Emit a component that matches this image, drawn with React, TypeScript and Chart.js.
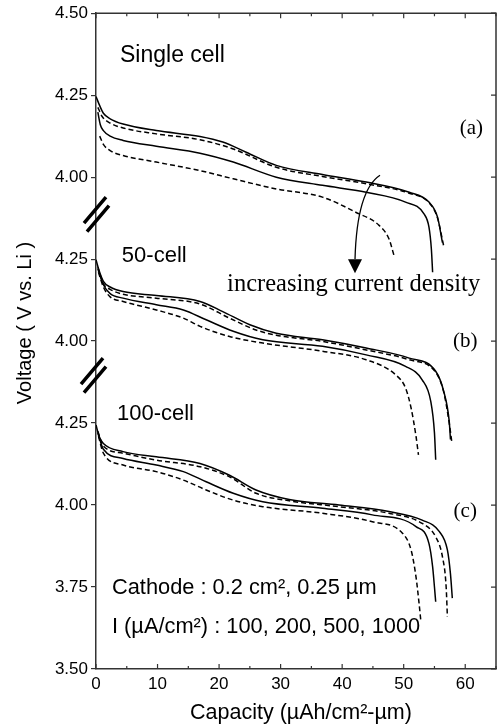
import { useEffect, useRef } from "react";
import Chart from "chart.js/auto";

// ---------- data (capacity µAh/cm²-µm, voltage V vs Li) ----------
// Panel (a): single cell
const A_CAP_100 = [0, 0.6, 1.2, 2.3, 4.4, 9.8, 16.9, 20.6, 24.4, 29.3, 36.8, 43.9, 50.9, 54.1, 55.5, 56.3];
const A_V_100 = [4.246, 4.218, 4.195, 4.178, 4.162, 4.142, 4.124, 4.107, 4.076, 4.036, 4.008, 3.985, 3.954, 3.924, 3.878, 3.8];
const A_CAP_200 = [0.3, 1.0, 2.3, 4.4, 9.8, 16.9, 22.3, 29.3, 36.8, 43.9, 50.9, 54.1, 55.5, 56.5];
const A_V_200 = [4.213, 4.185, 4.165, 4.15, 4.132, 4.114, 4.086, 4.03, 4.002, 3.98, 3.951, 3.922, 3.875, 3.79];
const A_CAP_500 = [0.3, 0.7, 1.2, 2.3, 4.4, 9.8, 16.9, 22.3, 29.3, 36.8, 43.9, 50.3, 53.3, 54.1, 54.5, 54.7];
const A_V_500 = [4.198, 4.16, 4.142, 4.125, 4.112, 4.094, 4.073, 4.046, 4.0, 3.975, 3.954, 3.924, 3.888, 3.848, 3.78, 3.71];
const A_CAP_1000 = [0.6, 1.2, 2.3, 4.4, 9.8, 16.9, 22.3, 29.3, 36.8, 42.2, 46.0, 47.6, 48.5];
const A_V_1000 = [4.125, 4.1, 4.081, 4.066, 4.046, 4.02, 3.995, 3.964, 3.939, 3.893, 3.853, 3.812, 3.756];

// Panel (b): 50-cell
const B_CAP_100 = [0, 0.5, 1.2, 2.3, 4.4, 9.8, 16.9, 20.6, 25, 29.3, 36.8, 43.9, 50.9, 55.2, 56.5, 57.4, 57.6];
const B_V_100 = [4.248, 4.215, 4.182, 4.165, 4.151, 4.139, 4.121, 4.09, 4.05, 4.024, 4.004, 3.979, 3.948, 3.908, 3.847, 3.755, 3.7];
const B_CAP_200 = [0.3, 1.2, 2.3, 4.4, 9.8, 16.9, 21.7, 26, 29.3, 36.8, 43.9, 50.9, 55.2, 56.5, 57.4, 57.8];
const B_V_200 = [4.225, 4.175, 4.158, 4.143, 4.131, 4.113, 4.07, 4.034, 4.018, 3.999, 3.973, 3.943, 3.905, 3.845, 3.75, 3.695];
const B_CAP_500 = [0.3, 1.2, 2.3, 4.4, 9.8, 14.2, 17.9, 22.3, 27.1, 36.8, 43.9, 50.3, 53.0, 54.4, 55.0, 55.2];
const B_V_500 = [4.22, 4.172, 4.145, 4.131, 4.111, 4.095, 4.065, 4.03, 4.004, 3.984, 3.958, 3.923, 3.882, 3.816, 3.72, 3.638];
const B_CAP_1000 = [0.4, 1.2, 2.3, 4.4, 9.8, 14.2, 16.9, 21.7, 27.1, 36.8, 43.9, 48.7, 50.3, 51.2, 52.0, 52.4];
const B_V_1000 = [4.21, 4.165, 4.135, 4.121, 4.095, 4.07, 4.045, 4.014, 3.994, 3.969, 3.943, 3.897, 3.857, 3.796, 3.71, 3.653];

// Panel (c): 100-cell
const C_CAP_100 = [0, 0.5, 1.2, 4.4, 9.8, 16.9, 21.7, 26, 31.4, 39.5, 47.6, 53, 55.8, 57.1, 57.6, 57.9];
const C_V_100 = [4.244, 4.21, 4.188, 4.163, 4.147, 4.127, 4.091, 4.046, 4.017, 4.0, 3.98, 3.954, 3.919, 3.863, 3.79, 3.716];
const C_CAP_200 = [0.3, 1.2, 4.4, 9.8, 16.9, 21.7, 26, 31.4, 39.5, 47.6, 53, 55.2, 56.3, 56.9, 57.1];
const C_V_200 = [4.225, 4.18, 4.158, 4.137, 4.117, 4.086, 4.036, 4.013, 3.995, 3.975, 3.944, 3.903, 3.842, 3.75, 3.659];
const C_CAP_500 = [0.3, 1.2, 4.4, 9.8, 14.2, 17.9, 22.3, 27.1, 36.8, 44.9, 52.0, 54.1, 54.7, 55.0, 55.2];
const C_V_500 = [4.22, 4.17, 4.142, 4.122, 4.102, 4.071, 4.036, 4.01, 3.99, 3.97, 3.934, 3.883, 3.812, 3.75, 3.705];
const C_CAP_1000 = [0.4, 1.2, 4.4, 9.8, 14.2, 17.9, 22.3, 27.1, 36.8, 44.9, 49.8, 51.2, 52.0, 52.5, 52.8];
const C_V_1000 = [4.21, 4.158, 4.122, 4.102, 4.076, 4.046, 4.015, 3.995, 3.975, 3.949, 3.914, 3.863, 3.781, 3.7, 3.644];

// broken-axis panels: each panel is shifted up the shared axis
const PANEL_OFFSET = { a: 1.0, b: 0.5, c: 0 };
const PANEL_BREAKS = [4.887, 4.396];

const X_MIN = 0;
const X_MAX = 65;
const X_TICKS = [0, 10, 20, 30, 40, 50, 60];
const Y_MIN = 3.5;
const Y_MAX = 5.5;
const Y_STEP = 0.25;

const SERIES = [
  { panel: "a", cap: A_CAP_100, v: A_V_100, dashed: false },
  { panel: "a", cap: A_CAP_200, v: A_V_200, dashed: true },
  { panel: "a", cap: A_CAP_500, v: A_V_500, dashed: false },
  { panel: "a", cap: A_CAP_1000, v: A_V_1000, dashed: true },
  { panel: "b", cap: B_CAP_100, v: B_V_100, dashed: false },
  { panel: "b", cap: B_CAP_200, v: B_V_200, dashed: true },
  { panel: "b", cap: B_CAP_500, v: B_V_500, dashed: false },
  { panel: "b", cap: B_CAP_1000, v: B_V_1000, dashed: true },
  { panel: "c", cap: C_CAP_100, v: C_V_100, dashed: false },
  { panel: "c", cap: C_CAP_200, v: C_V_200, dashed: true },
  { panel: "c", cap: C_CAP_500, v: C_V_500, dashed: false },
  { panel: "c", cap: C_CAP_1000, v: C_V_1000, dashed: true },
];

const SANS = '"Liberation Sans", Arial, Helvetica, sans-serif';
const SERIF = '"Liberation Serif", "Times New Roman", serif';
const AXIS_COLOR = "#333";

// text annotations, positioned in data coordinates (capacity, shifted voltage)
const LABELS = [
  { text: "Single cell", x: 3.9, y: 5.37, font: `23px ${SANS}`, align: "left" },
  { text: "(a)", x: 61.0, y: 5.149, font: `21px ${SERIF}`, align: "center" },
  { text: "50-cell", x: 4.2, y: 4.759, font: `22px ${SANS}`, align: "left" },
  { text: "increasing current density", x: 21.3, y: 4.671, font: `24.5px ${SERIF}`, align: "left" },
  { text: "(b)", x: 60.0, y: 4.5, font: `21px ${SERIF}`, align: "center" },
  { text: "100-cell", x: 3.4, y: 4.277, font: `22px ${SANS}`, align: "left" },
  { text: "(c)", x: 60.0, y: 3.979, font: `21px ${SERIF}`, align: "center" },
  { text: "Cathode : 0.2 cm\u00B2, 0.25 \u00B5m", x: 2.6, y: 3.747, font: `21.8px ${SANS}`, align: "left" },
  { text: "I (\u00B5A/cm\u00B2) : 100, 200, 500, 1000", x: 2.6, y: 3.628, font: `21.8px ${SANS}`, align: "left" },
];

const ARROW = { x0: 46.15, y0: 5.006, cx: 42.4, cy: 4.96, x1: 42.09, y1: 4.75, tip: 4.707 };

const yLabel = (val: number) => {
  const off = val > 4.875 + 1e-6 ? PANEL_OFFSET.a : val > 4.375 + 1e-6 ? PANEL_OFFSET.b : PANEL_OFFSET.c;
  return (val - off).toFixed(2);
};

const decorPlugin = {
  id: "decor",
  afterDraw(chart: any) {
    const { ctx, chartArea: ca, scales } = chart;
    const xs = scales.x;
    const ys = scales.y;
    const X = (v: number) => xs.getPixelForValue(v);
    const Y = (v: number) => ys.getPixelForValue(v);
    ctx.save();
    // top and right frame
    ctx.strokeStyle = AXIS_COLOR;
    ctx.lineWidth = 1.5;
    ctx.beginPath();
    ctx.moveTo(ca.left, ca.top);
    ctx.lineTo(ca.right, ca.top);
    ctx.lineTo(ca.right, ca.bottom);
    ctx.stroke();
    // inward ticks on top/bottom
    ctx.lineWidth = 1.2;
    ctx.beginPath();
    for (let v = X_MIN; v <= X_MAX; v += 5) {
      const len = v % 10 === 0 ? 5 : 3;
      const px = X(v);
      ctx.moveTo(px, ca.bottom);
      ctx.lineTo(px, ca.bottom - len);
      ctx.moveTo(px, ca.top);
      ctx.lineTo(px, ca.top + len);
    }
    // inward ticks on right
    for (let t = Y_MIN; t <= Y_MAX + 1e-9; t += Y_STEP) {
      const py = Y(t);
      ctx.moveTo(ca.right, py);
      ctx.lineTo(ca.right - 5, py);
    }
    ctx.stroke();

    // axis break marks
    ctx.strokeStyle = "#000";
    ctx.lineWidth = 3.5;
    ctx.lineCap = "butt";
    PANEL_BREAKS.forEach((b, i) => {
      const yc = Y(b);
      const xc = ca.left + (i === 0 ? 0 : -3);
      ctx.beginPath();
      ctx.moveTo(xc - 1 - 11, yc - 4 + 13);
      ctx.lineTo(xc - 1 + 11, yc - 4 - 13);
      ctx.moveTo(xc + 2 - 11, yc + 4.5 + 13);
      ctx.lineTo(xc + 2 + 11, yc + 4.5 - 13);
      ctx.stroke();
    });

    // texts
    ctx.fillStyle = "#000";
    ctx.textBaseline = "middle";
    for (const l of LABELS) {
      ctx.font = l.font;
      ctx.textAlign = l.align as CanvasTextAlign;
      ctx.fillText(l.text, X(l.x), Y(l.y));
    }

    // arrow
    ctx.lineWidth = 1.3;
    ctx.beginPath();
    ctx.moveTo(X(ARROW.x0), Y(ARROW.y0));
    ctx.quadraticCurveTo(X(ARROW.cx), Y(ARROW.cy), X(ARROW.x1), Y(ARROW.y1));
    ctx.stroke();
    ctx.beginPath();
    ctx.moveTo(X(ARROW.x1) - 7, Y(ARROW.y1));
    ctx.lineTo(X(ARROW.x1) + 7, Y(ARROW.y1));
    ctx.lineTo(X(ARROW.x1), Y(ARROW.tip));
    ctx.closePath();
    ctx.fill();

    // axis titles
    ctx.font = `21.5px ${SANS}`;
    ctx.textAlign = "center";
    ctx.fillText("Capacity (\u00B5Ah/cm\u00B2-\u00B5m)", (ca.left + ca.right) / 2 + 5, 713);
    ctx.translate(25, 323);
    ctx.rotate(-Math.PI / 2);
    ctx.font = `20px ${SANS}`;
    ctx.fillText("Voltage ( V vs. Li )", 0, 0);
    ctx.restore();
  },
};

export default function App() {
  const ref = useRef<HTMLCanvasElement | null>(null);
  useEffect(() => {
    document.body.style.margin = "0";
    const canvas = ref.current;
    if (!canvas) return;
    const datasets = SERIES.map((s) => ({
      data: s.cap.map((c, i) => ({ x: c, y: s.v[i] + PANEL_OFFSET[s.panel as "a" | "b" | "c"] })),
      borderColor: "#000",
      borderWidth: 1.5,
      borderDash: s.dashed ? [5, 3] : [],
      pointRadius: 0,
      fill: false,
      cubicInterpolationMode: "monotone" as const,
    }));
    const chart = new Chart(canvas, {
      type: "line",
      data: { datasets },
      options: {
        animation: false,
        responsive: false,
        devicePixelRatio: 1,
        layout: { padding: { left: 0, top: 13, right: 1, bottom: 0 } },
        plugins: { legend: { display: false }, tooltip: { enabled: false } },
        scales: {
          x: {
            type: "linear",
            min: X_MIN,
            max: X_MAX,
            afterFit: (s: any) => {
              s.height = 58;
            },
            afterBuildTicks: (s: any) => {
              s.ticks = X_TICKS.map((v) => ({ value: v }));
            },
            grid: { display: false, drawTicks: false },
            border: { display: true, color: AXIS_COLOR, width: 1.5 },
            ticks: {
              padding: 5,
              color: "#000",
              font: { family: SANS, size: 17 },
              maxRotation: 0,
              autoSkip: false,
              callback: (v: any) => String(v),
            },
          },
          y: {
            type: "linear",
            min: Y_MIN,
            max: Y_MAX,
            afterFit: (s: any) => {
              s.width = 96;
            },
            grid: { drawOnChartArea: false, drawTicks: true, tickLength: 5, color: AXIS_COLOR, lineWidth: 1.2 },
            border: { display: true, color: AXIS_COLOR, width: 1.5 },
            ticks: {
              stepSize: Y_STEP,
              padding: 3,
              color: "#000",
              autoSkip: false,
              font: { family: SANS, size: 17 },
              callback: (v: any) => yLabel(Number(v)),
            },
          },
        },
      },
      plugins: [decorPlugin],
    });
    return () => chart.destroy();
  }, []);
  return (
    <div style={{ width: 497, height: 727 }}>
      <canvas ref={ref} width={497} height={727} style={{ display: "block" }} />
    </div>
  );
}
